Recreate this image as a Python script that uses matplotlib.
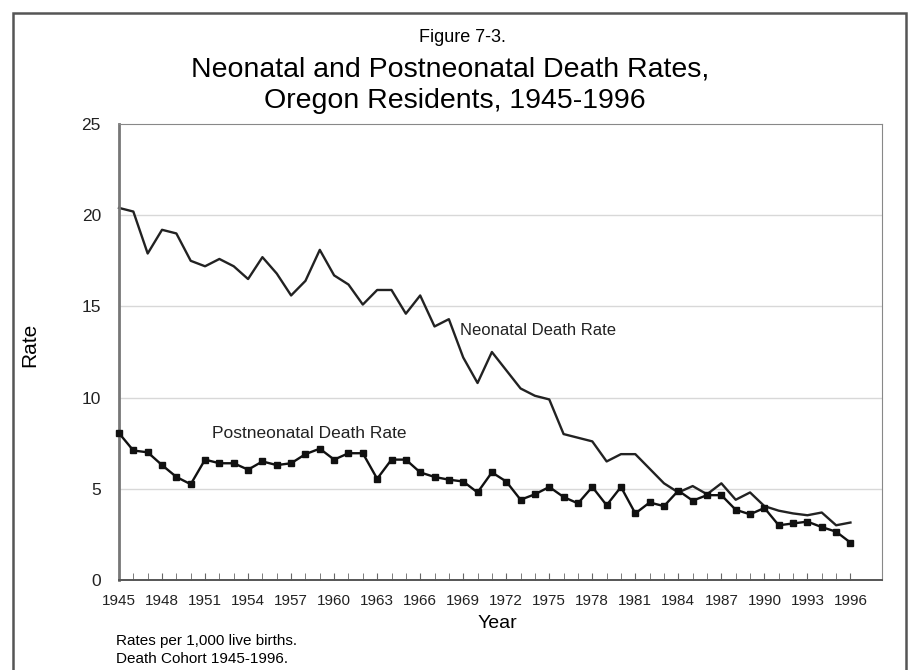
import matplotlib
matplotlib.use("Agg")
import matplotlib.pyplot as plt
from matplotlib.patches import Rectangle

plt.rcParams['font.family'] = ['Liberation Sans', 'DejaVu Sans']

# data (rates per 1,000 live births)
years = list(range(1945, 1997))
neonatal = [20.4, 20.2, 17.9, 19.2, 19.0, 17.5, 17.2, 17.6, 17.2, 16.5,
            17.7, 16.8, 15.6, 16.4, 18.1, 16.7, 16.2, 15.1, 15.9, 15.9,
            14.6, 15.6, 13.9, 14.3, 12.2, 10.8, 12.5, 11.5, 10.5, 10.1,
            9.9, 8.0, 7.8, 7.6, 6.5, 6.9, 6.9, 6.1, 5.3, 4.8,
            5.15, 4.7, 5.3, 4.4, 4.8, 4.05, 3.8, 3.65, 3.55, 3.7,
            3.0, 3.15]
postneonatal = [8.05, 7.1, 7.0, 6.3, 5.65, 5.25, 6.6, 6.4, 6.4, 6.05,
                6.5, 6.3, 6.4, 6.9, 7.2, 6.6, 6.95, 6.95, 5.55, 6.6,
                6.6, 5.9, 5.65, 5.5, 5.4, 4.8, 5.9, 5.4, 4.4, 4.7,
                5.1, 4.55, 4.2, 5.1, 4.1, 5.1, 3.65, 4.25, 4.05, 4.9,
                4.35, 4.65, 4.65, 3.85, 3.6, 3.95, 3.0, 3.1, 3.2, 2.9,
                2.65, 2.05]
xtick_years = list(range(1945, 1997, 3))
yticks = [0, 5, 10, 15, 20, 25]

fig = plt.figure(figsize=(9.2, 6.7), dpi=100)
fig.patch.set_facecolor('white')

# outer frame
fig.patches.append(Rectangle((13/920, -0.01), (906-13)/920, 1 - 13/670 + 0.01,
                             transform=fig.transFigure, fill=False,
                             edgecolor='#555555', linewidth=1.8))

ax = fig.add_axes([119/920, 90/670, 763/920, 456/670])

ax.plot(years, neonatal, color='#222222', linewidth=1.7, clip_on=False)
ax.plot(years, postneonatal, color='#111111', linewidth=1.7,
        marker='s', markersize=4.5, clip_on=False, zorder=3)

ax.set_xlim(1945, 1998.2)
ax.set_ylim(0, 25)
ax.set_yticks(yticks)
ax.set_xticks(xtick_years)
ax.set_xticks(years, minor=True)
ax.tick_params(axis='x', which='both', direction='in', length=5,
               color='#666666', labelsize=11, pad=10, labelcolor='#222222')
ax.tick_params(axis='y', length=0, labelsize=12.5, pad=13, labelcolor='#222222')

for v in [5, 10, 15, 20]:
    ax.axhline(v, color='#d8d8d8', linewidth=1.0, zorder=0)

ax.spines['left'].set_color('#777777')
ax.spines['left'].set_linewidth(2.0)
ax.spines['bottom'].set_color('#555555')
ax.spines['bottom'].set_linewidth(1.4)
ax.spines['top'].set_color('#888888')
ax.spines['right'].set_color('#888888')

ax.text(1968.8, 13.7, 'Neonatal Death Rate', fontsize=12, va='center', color='#222222')
ax.text(1951.5, 8.05, 'Postneonatal Death Rate', fontsize=12.5, va='center', color='#222222')

fig.text(462/920, 1 - 37/670, 'Figure 7-3.', ha='center', va='center', fontsize=13)
fig.text(450/920, 1 - 70/670, 'Neonatal and Postneonatal Death Rates,',
         ha='center', va='center', fontsize=20.5)
fig.text(455/920, 1 - 101/670, 'Oregon Residents, 1945-1996',
         ha='center', va='center', fontsize=20.5)

fig.text(30/920, 1 - 345/670, 'Rate', rotation=90, ha='center', va='center', fontsize=15)
fig.text(497/920, 1 - 624/670, 'Year', ha='center', va='center', fontsize=14)
fig.text(116/920, 1 - 641/670, 'Rates per 1,000 live births.', ha='left', va='center', fontsize=11)
fig.text(116/920, 1 - 659/670, 'Death Cohort 1945-1996.', ha='left', va='center', fontsize=11)

fig.savefig('out.png', dpi=100, facecolor='white')
